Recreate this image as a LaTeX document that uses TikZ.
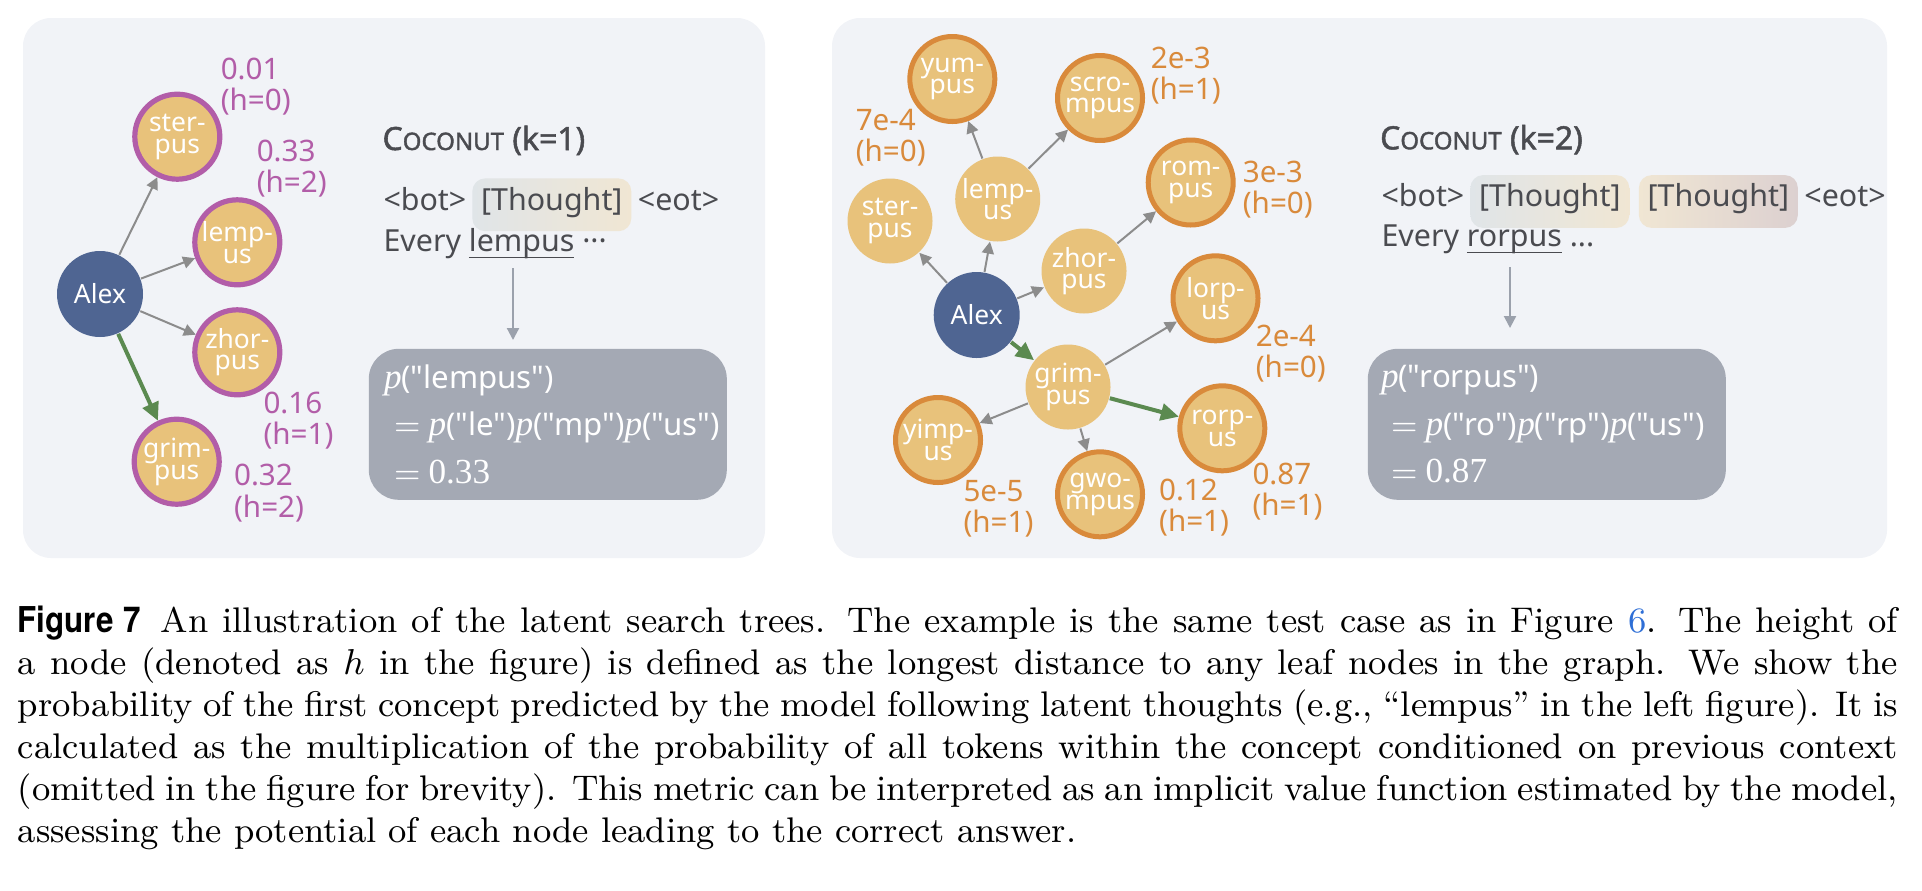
\documentclass[tikz,border=0pt]{standalone}
\usepackage{fontspec}
\usepackage{tikz}
\usetikzlibrary{positioning, arrows.meta}

\newfontfamily\diagfont{Noto Sans}
\newfontfamily\diagbold{Noto Sans}[FakeBold=1.6]
\newfontfamily\probserif{Liberation Serif}
\newfontfamily\capsans{TeX Gyre Heros}[FakeStretch=0.88]

\definecolor{panelbg}{HTML}{F1F3F7}
\definecolor{conceptfill}{HTML}{E8C27B}
\definecolor{ringorange}{HTML}{D98A3B}
\definecolor{ringpurple}{HTML}{B25DA8}
\definecolor{alexblue}{HTML}{4F6592}
\definecolor{edgegray}{HTML}{8C8C8C}
\definecolor{pathgreen}{HTML}{5B8A50}
\definecolor{textdark}{HTML}{4A4B50}
\definecolor{probgray}{HTML}{A4A9B4}
\definecolor{downgray}{HTML}{9BA1AC}
\definecolor{thblue}{HTML}{E0E5E8}
\definecolor{thbeige}{HTML}{F0E6D3}
\definecolor{thpink}{HTML}{DCD0D0}
\definecolor{linkblue}{HTML}{2F6FD6}

\newcommand{\probp}{{\probserif\itshape\fontsize{8.8}{11.9}\selectfont p}}
\newcommand{\probnum}[1]{{\probserif\fontsize{8.8}{11.9}\selectfont #1}}
\newcommand{\tokul}[1]{\underline{\smash{#1}}}
\newcommand{\nodefont}{\diagfont\fontsize{6.6}{5.4}\selectfont\lineskiplimit=-20pt}
\newcommand{\valfont}{\diagfont\fontsize{7.4}{7.8}\selectfont}
\newcommand{\linefont}{\diagfont\fontsize{7.6}{9}\selectfont}
\newcommand{\titlefont}{\diagbold\fontsize{8}{9}\selectfont}

\begin{document}
\begin{tikzpicture}[x=0.25pt, y=-0.25pt]
    % Default looks of the pieces
    \tikzstyle{concept}=[circle, fill=conceptfill, minimum size=21.25pt, inner sep=0pt,
        text=white, align=center, font=\nodefont];
    \tikzstyle{oring}=[concept, draw=ringorange, line width=1.25pt];
    \tikzstyle{pring}=[concept, draw=ringpurple, line width=1.3pt];
    \tikzstyle{root}=[circle, fill=alexblue, minimum size=21.5pt, inner sep=0pt,
        text=white, font=\nodefont];
    \tikzstyle{edge}=[-{Triangle[length=3pt,width=3pt]}, edgegray, line width=0.5pt];
    \tikzstyle{best}=[-{Triangle[length=4.5pt,width=4.2pt]}, pathgreen, line width=1pt];
    \tikzstyle{val}=[anchor=west, align=left, inner sep=0pt, font=\valfont];
    \tikzstyle{tok}=[inner sep=0pt, text=textdark, font=\linefont];
    \tikzstyle{thought}=[tok, rounded corners=3.2pt, inner xsep=2.2pt, inner ysep=2pt,
        text height=5.9pt, text depth=3.3pt];
    \tikzstyle{probbox}=[fill=probgray, rounded corners=7.5pt, anchor=north west,
        minimum width=89.5pt, minimum height=37.75pt];
    \tikzstyle{probtext}=[anchor=west, inner sep=0pt, text=white, align=left,
        font=\diagfont\fontsize{7.8}{11.9}\selectfont];
    \tikzstyle{down}=[-{Triangle[length=3pt,width=3pt]}, downgray, line width=0.55pt];

    \useasboundingbox (0,0) rectangle (1922,890);

    % Two panels
    \fill[panelbg, rounded corners=7pt] (23,18) rectangle (765,558);
    \fill[panelbg, rounded corners=7pt] (832,18) rectangle (1887,558);

    % Left tree, k=1
    \node [root] (alex1) at (100,294) {Alex};
    \node [pring] (ster1) at (177.3,136.7) {ster-\\pus};
    \node [pring] (lemp1) at (237.3,242.3) {lemp-\\us};
    \node [pring] (zhor1) at (237.3,352.3) {zhor-\\pus};
    \node [pring] (grim1) at (176.7,461.7) {grim-\\pus};
    \node [val, text=ringpurple] (v1) at (220,86.5) {0.01\\(h=0)};
    \node [val, text=ringpurple] (v2) at (256,169) {0.33\\(h=2)};
    \node [val, text=ringpurple] (v3) at (262.7,420.5) {0.16\\(h=1)};
    \node [val, text=ringpurple] (v4) at (233.3,493) {0.32\\(h=2)};
    \foreach \a/\b in {alex1/ster1, alex1/lemp1, alex1/zhor1}
        \draw[edge] (\a) -- (\b);
    \draw[best] (alex1) -- (grim1);

    % Left text
    \node [tok, anchor=base west, font=\titlefont] (title1) at (381.7,150)
        {C{\fontsize{6}{6}\selectfont OCONUT} (k=1)};
    \node [tok, anchor=base west] (bot1) at (382.7,210) {<bot>};
    \node [thought, left color=thblue, right color=thbeige, right=1.1pt of bot1.base east, anchor=base west] (th1) {[Thought]};
    \node [tok, right=1.25pt of th1.base east, anchor=base west] (eot1) {<eot>};
    \node [tok, anchor=base west] (every1) at (382.7,251.7) {Every \tokul{lempus} ···};
    \coordinate (d1a) at (513,268);
    \coordinate (d1b) at (513,340);
    \draw[down] (d1a) -- (d1b);
    \node [probbox] (prob1) at (368,348) {};
    \node [probtext, right=3.8pt of prob1.west, anchor=west] (eq1) {\probp("lempus")\\
        \hspace{2.5pt}$=$ \probp("le")\probp("mp")\probp("us")\\
        \hspace{2.5pt}$=$ \probnum{0.33}};

    % Right tree, k=2
    \node [root] (alex2) at (976.7,315) {Alex};
    \node [concept] (ster2) at (890,221) {ster-\\pus};
    \node [concept] (lemp2) at (997.7,199) {lemp-\\us};
    \node [concept] (zhor2) at (1084,271) {zhor-\\pus};
    \node [concept] (grim2) at (1068,387) {grim-\\pus};
    \node [oring] (yum) at (952.3,79) {yum-\\pus};
    \node [oring] (scro) at (1100,98) {scro-\\mpus};
    \node [oring] (rom) at (1190.7,182.5) {rom-\\pus};
    \node [oring] (lorp) at (1215.5,298.3) {lorp-\\us};
    \node [oring] (rorp) at (1222.3,428.3) {rorp-\\us};
    \node [oring] (yimp) at (938,440) {yimp-\\us};
    \node [oring] (gwo) at (1100,494.3) {gwo-\\mpus};
    \node [val, text=ringorange] (w1) at (855,137.5) {7e-4\\(h=0)};
    \node [val, text=ringorange] (w2) at (1150,76) {2e-3\\(h=1)};
    \node [val, text=ringorange] (w3) at (1242,189.5) {3e-3\\(h=0)};
    \node [val, text=ringorange] (w4) at (1255,354) {2e-4\\(h=0)};
    \node [val, text=ringorange] (w5) at (1251.7,491.7) {0.87\\(h=1)};
    \node [val, text=ringorange] (w6) at (962.7,509) {5e-5\\(h=1)};
    \node [val, text=ringorange] (w7) at (1158.3,507.3) {0.12\\(h=1)};
    \foreach \a/\b in {alex2/ster2, alex2/lemp2, alex2/zhor2, lemp2/yum, lemp2/scro,
        zhor2/rom, grim2/lorp, grim2/yimp, grim2/gwo}
        \draw[edge] (\a) -- (\b);
    \draw[best] (alex2) -- (grim2);
    \draw[best] (grim2) -- (rorp);

    % Right text
    \node [tok, anchor=base west, font=\titlefont] (title2) at (1379.3,149.3)
        {C{\fontsize{6}{6}\selectfont OCONUT} (k=2)};
    \node [tok, anchor=base west] (bot2) at (1380.7,206.7) {<bot>};
    \node [thought, left color=thblue, right color=thbeige, right=1.1pt of bot2.base east, anchor=base west] (th2) {[Thought]};
    \node [thought, left color=thbeige, right color=thpink, right=2pt of th2.base east, anchor=base west] (th3) {[Thought]};
    \node [tok, right=1.25pt of th3.base east, anchor=base west] (eot2) {<eot>};
    \node [tok, anchor=base west] (every2) at (1380.7,246.7) {Every \tokul{rorpus} ...};
    \coordinate (d2a) at (1510,267);
    \coordinate (d2b) at (1510,328);
    \draw[down] (d2a) -- (d2b);
    \node [probbox] (prob2) at (1367,348) {};
    \node [probtext, right=3.3pt of prob2.west, anchor=west] (eq2) {\probp("rorpus")\\
        \hspace{2.5pt}$=$ \probp("ro")\probp("rp")\probp("us")\\
        \hspace{2.5pt}$=$ \probnum{0.87}};

    % Caption
    \node [anchor=north west, inner sep=0pt, text width=470pt, align=justify,
        font=\fontsize{8.9}{10.5}\selectfont] (caption) at (17,605)
        {{\capsans\bfseries Figure 7}\hspace{0.55em}An illustration of the latent search trees. The example is the same test case as in Figure \textcolor{linkblue}{6}. The height of\linebreak
        a node (denoted as $h$ in the figure) is defined as the longest distance to any leaf nodes in the graph. We show the\linebreak
        probability of the first concept predicted by the model following latent thoughts (e.g., ``lempus'' in the left figure). It is\linebreak
        calculated as the multiplication of the probability of all tokens within the concept conditioned on previous context\linebreak
        (omitted in the figure for brevity). This metric can be interpreted as an implicit value function estimated by the model,\linebreak
        assessing the potential of each node leading to the correct answer.};
\end{tikzpicture}
\end{document}
